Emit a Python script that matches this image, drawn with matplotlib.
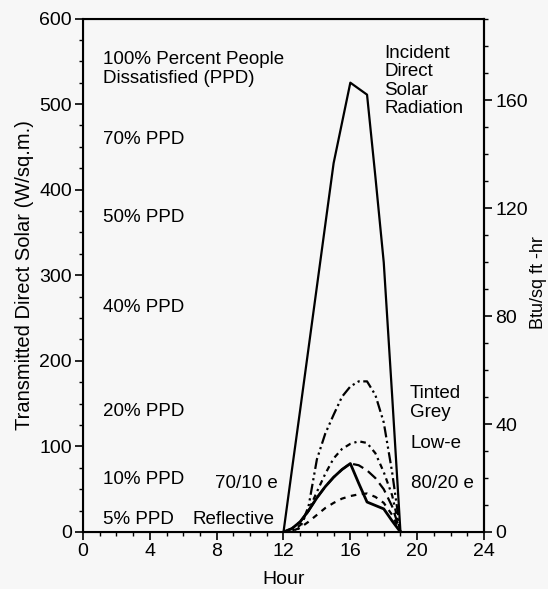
import numpy as np
import matplotlib
matplotlib.use("Agg")
import matplotlib.pyplot as plt
from matplotlib.ticker import MultipleLocator

plt.rcParams['font.family'] = ['Liberation Sans', 'DejaVu Sans']

# half-hour readings, 12:00 to 19:00
hours = [12, 12.5, 13, 13.5, 14, 14.5, 15, 15.5, 16, 16.5, 17, 17.5, 18, 18.5, 19]
incident = [0, 72, 143, 215, 287, 359, 431, 478, 525, 518, 511, 415, 315, 160, 0]
tinted = [0, 0, 5, 30, 85, 115, 137, 158, 170, 176, 176, 160, 128, 70, 0]
low_e = [0, 1, 8, 25, 47, 68, 86, 97, 103, 106, 104, 92, 70, 43, 0]
e_80_20 = [0, 4, 12, 25, 40, 53, 64, 73, 80, 78, 72, 63, 50, 30, 0]
e_70_10 = [0, 4, 12, 25, 40, 53, 64, 73, 80, 57, 35, 31, 27, 13, 0]
reflective = [0, 1, 5, 12, 20, 28, 34, 39, 42, 44, 45, 41, 34, 20, 0]

ppd_labels = ["70% PPD", "50% PPD", "40% PPD", "20% PPD", "10% PPD", "5% PPD"]
ppd_y = [140, 218, 307, 411, 480, 519]  # pixel rows in the figure

W_PER_BTU = 3.1546

bg = '#f7f7f7'
fig = plt.figure(figsize=(5.48, 5.89), dpi=100, facecolor=bg)
ax = fig.add_axes([83/548, 1-532/589, (484-83)/548, (532-18.5)/589])
ax.set_facecolor(bg)

lw = 1.6
ax.plot(hours, incident, color='black', lw=lw)
ax.plot(hours, tinted, color='black', lw=lw, dashes=(5, 1.6, 1, 1.6, 1, 1.6))
ax.plot(hours, low_e, color='black', lw=lw, dashes=(2.5, 1.8, 1, 1.8))
ax.plot(hours, e_80_20, color='black', lw=lw, dashes=(5, 2.5))
ax.plot(hours, e_70_10, color='black', lw=2.0)
ax.plot(hours, reflective, color='black', lw=lw, dashes=(2.5, 2.5))

ax.set_xlim(0, 24)
ax.set_ylim(0, 600)
ax.xaxis.set_major_locator(MultipleLocator(4))
ax.xaxis.set_minor_locator(MultipleLocator(1))
ax.yaxis.set_major_locator(MultipleLocator(100))
ax.yaxis.set_minor_locator(MultipleLocator(25))
for s in ax.spines.values():
    s.set_linewidth(1.5)
ax.tick_params(which='major', length=6, width=1.2, labelsize=14, pad=2)
ax.tick_params(which='minor', length=3, width=1.0)
ax.set_xlabel("Hour", fontsize=14)
ax.set_ylabel("Transmitted Direct Solar (W/sq.m.)", fontsize=14.5)
ax.xaxis.set_label_coords(0.5, -(580 - 532) / 513.5)
ax.yaxis.set_label_coords((24 - 83) / 401, 0.5)
ax.xaxis.label.set_va('center')
ax.yaxis.label.set_va('center')

ax2 = ax.twinx()
ax2.set_ylim(0, 600 / W_PER_BTU)
ax2.yaxis.set_major_locator(MultipleLocator(40))
ax2.yaxis.set_minor_locator(MultipleLocator(10))
ax2.spines['right'].set_linewidth(1.5)
ax2.tick_params(which='major', length=6, width=1.2, labelsize=14, pad=2)
ax2.tick_params(which='minor', length=3, width=1.0)

def px(x, y):
    return x / 548, 1 - y / 589

fs = 13.5
fig.text(*px(103, 69), "100% Percent People\nDissatisfied (PPD)", fontsize=fs,
         ha='left', va='center', linespacing=1.1)
for lab, y in zip(ppd_labels, ppd_y):
    fig.text(*px(103, y), lab, fontsize=fs, ha='left', va='center')
fig.text(*px(192, 519), "Reflective", fontsize=fs, ha='left', va='center')
fig.text(*px(215, 483), "70/10 e", fontsize=fs, ha='left', va='center')
fig.text(*px(411, 483), "80/20 e", fontsize=fs, ha='left', va='center')
fig.text(*px(411, 443), "Low-e", fontsize=fs, ha='left', va='center')
fig.text(*px(410, 403), "Tinted\nGrey", fontsize=fs, ha='left', va='center', linespacing=1.1)
fig.text(*px(384, 81), "Incident\nDirect\nSolar\nRadiation", fontsize=fs,
         ha='left', va='center', linespacing=1.1)
fig.text(*px(547, 283), "Btu/sq ft -hr", fontsize=13, rotation=90,
         ha='right', va='center')

fig.savefig("out.png", dpi=100, facecolor=bg)
